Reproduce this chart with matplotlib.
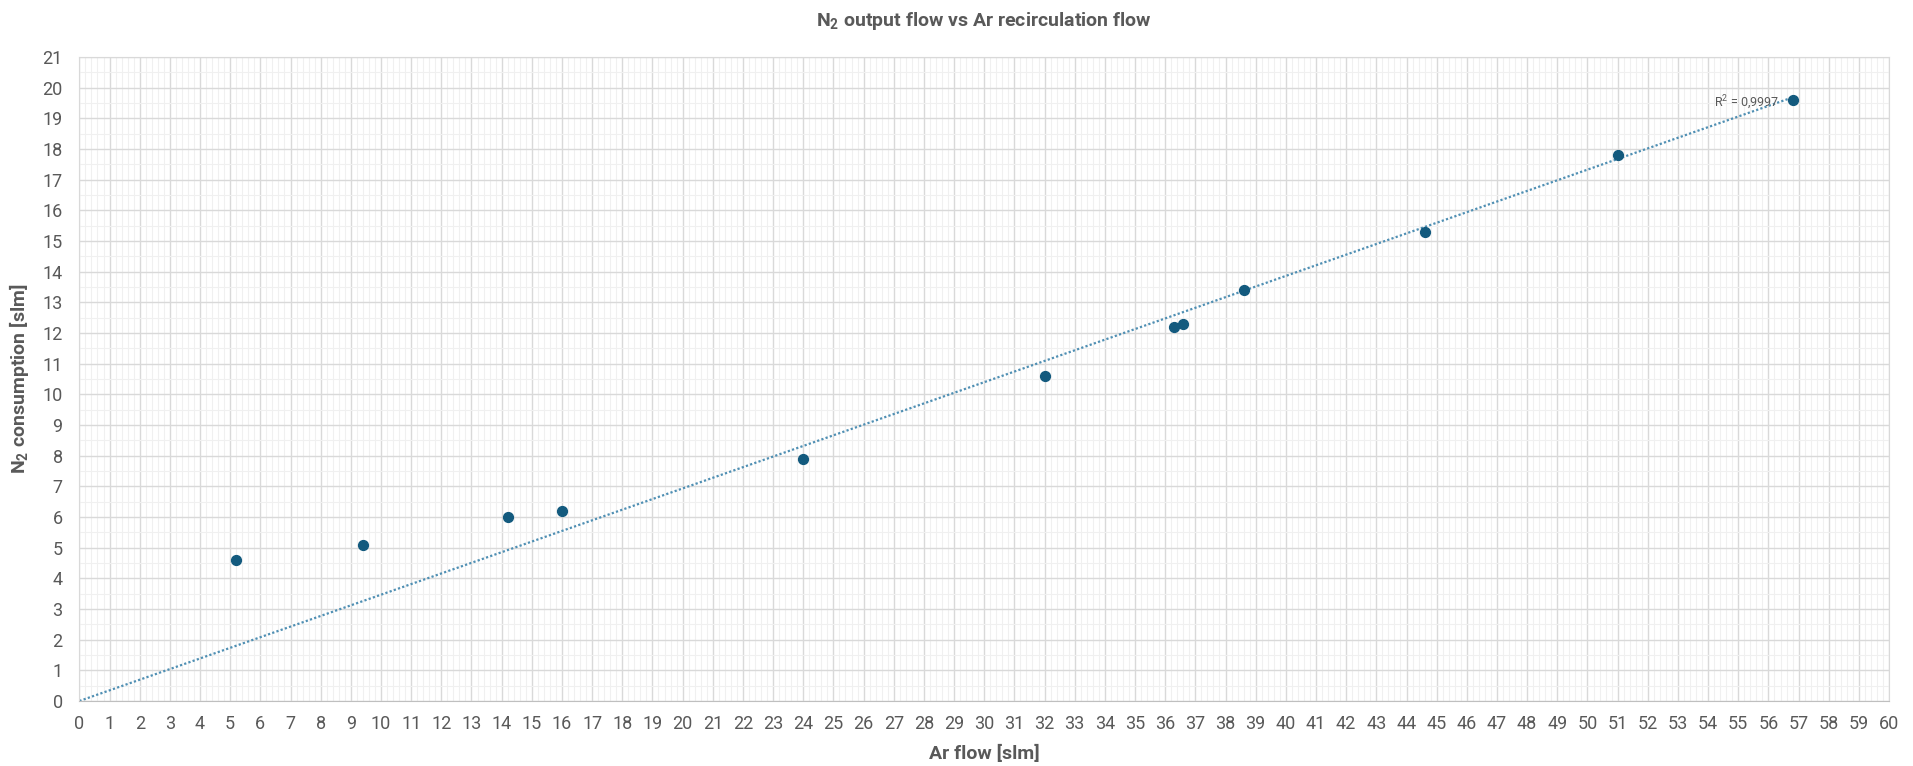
import numpy as np
import matplotlib
matplotlib.use('Agg')
import matplotlib.pyplot as plt
from matplotlib.ticker import MultipleLocator

# measured points
ar_flow = [5.2, 9.4, 14.2, 16.0, 24.0, 32.0, 36.3, 36.6, 38.6, 44.6, 51.0, 56.8]
n2_flow = [4.6, 5.1, 6.0, 6.2, 7.9, 10.6, 12.2, 12.3, 13.4, 15.3, 17.8, 19.6]
r2_label = 'R$^2$ = 0,9997'

plt.rcParams['font.family'] = ['Roboto', 'DejaVu Sans']
plt.rcParams['mathtext.fontset'] = 'custom'
plt.rcParams['mathtext.rm'] = 'Roboto'
plt.rcParams['mathtext.bf'] = 'Roboto:bold'

x = np.array(ar_flow)
y = np.array(n2_flow)
# trendline forced through origin (like Excel)
slope = (x * y).sum() / (x * x).sum()
xt = np.array([0, x.max()])

fig = plt.figure(figsize=(19.13, 7.66), dpi=100)
ax = fig.add_axes([0.0415, 0.0849, 0.946, 0.8407])

ax.plot(xt, slope * xt, linestyle=(0, (1, 1)), color='#4f8fb3', linewidth=1.6, zorder=2)
ax.scatter(x, y, s=50, color='#135a7e', zorder=3)
ax.text(54.2, 19.5, r2_label, fontsize=9, color='#595959', va='center', ha='left')

ax.set_xlim(0, 60)
ax.set_ylim(0, 21)
ax.xaxis.set_major_locator(MultipleLocator(1))
ax.yaxis.set_major_locator(MultipleLocator(1))
ax.xaxis.set_minor_locator(MultipleLocator(0.2))
ax.yaxis.set_minor_locator(MultipleLocator(0.5))
ax.grid(which='major', color='#d9d9d9', linewidth=1.0, zorder=0)
ax.grid(which='minor', color='#f0f0f0', linewidth=0.8, zorder=0)
ax.set_axisbelow(True)
ax.tick_params(which='both', length=0, labelsize=13, labelcolor='#595959')
ax.tick_params(axis='x', pad=10)
ax.tick_params(axis='y', pad=12)
for s in ax.spines.values():
    s.set_color('#d9d9d9')
ax.spines['bottom'].set_color('#bfbfbf')

ax.set_xlabel('Ar flow [slm]', fontsize=14, fontweight='bold', color='#595959', labelpad=9)
ax.set_ylabel(r'N$_{\mathbf{2}}$ consumption [slm]', fontsize=14, fontweight='bold', color='#595959', labelpad=8)
ax.set_title(r'N$_{\mathbf{2}}$ output flow vs Ar recirculation flow', fontsize=14, fontweight='bold',
             color='#595959', pad=22)

fig.savefig('out.png', dpi=100)
